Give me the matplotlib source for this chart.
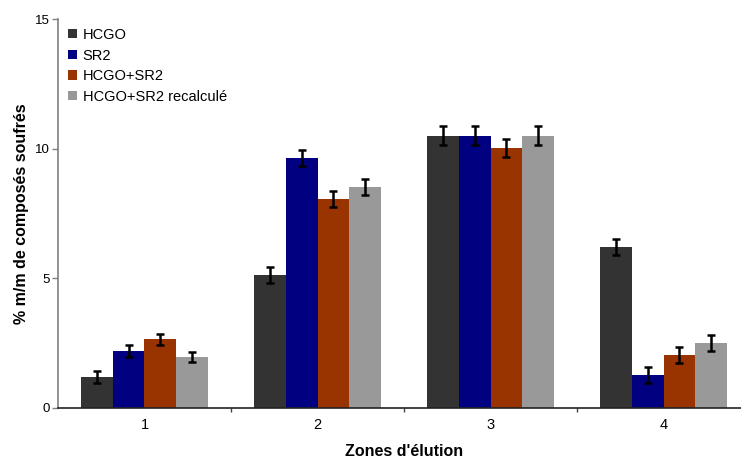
import numpy as np
import matplotlib
matplotlib.use("Agg")
import matplotlib.pyplot as plt
from matplotlib.patches import Patch

plt.rcParams['font.family'] = ['Liberation Sans', 'DejaVu Sans']

# zones d'elution
zones = ["1", "2", "3", "4"]
series = ["HCGO", "SR2", "HCGO+SR2", "HCGO+SR2 recalculé"]

hcgo = [1.20, 5.13, 10.50, 6.22]
sr2 = [2.20, 9.65, 10.50, 1.27]
melange = [2.66, 8.07, 10.04, 2.05]
recalc = [1.97, 8.53, 10.50, 2.51]

hcgo_err = [0.23, 0.32, 0.37, 0.31]
sr2_err = [0.23, 0.31, 0.37, 0.32]
melange_err = [0.21, 0.30, 0.35, 0.32]
recalc_err = [0.21, 0.30, 0.37, 0.31]

couleurs = ["#333333", "#000080", "#993300", "#999999"]

valeurs = [hcgo, sr2, melange, recalc]
erreurs = [hcgo_err, sr2_err, melange_err, recalc_err]

fig = plt.figure(figsize=(7.41, 4.59), dpi=100)
# axe qui deborde un peu a droite (comme l'original)
ax = fig.add_axes([58 / 741, 51 / 459, 692 / 741, 388.7 / 459])

x = np.arange(1, len(zones) + 1)
w = 0.183
for i in range(4):
    pos = x + (i - 1.5) * w
    ax.bar(pos, valeurs[i], w, color=couleurs[i], label=series[i], zorder=2)
    ax.errorbar(pos, valeurs[i], yerr=erreurs[i], fmt='none', ecolor='black',
                elinewidth=1.8, capsize=3, capthick=1.8, zorder=3)

ax.set_xlim(0.5, 4.5)
ax.set_ylim(0, 15)
ax.set_yticks([0, 5, 10, 15])
ax.set_xticks(x)
ax.set_xticklabels(zones)
ax.set_xticks([1.5, 2.5, 3.5], minor=True)
ax.tick_params(axis='x', which='major', length=0, labelsize=10.5, pad=7)
ax.tick_params(axis='x', which='minor', length=3, width=1, color='#444444', direction='out')
ax.tick_params(axis='y', length=4, width=1, color='#808080', labelsize=9.5, pad=2)

ax.spines['top'].set_visible(False)
ax.spines['right'].set_visible(False)
ax.spines['left'].set_color('#808080')
ax.spines['left'].set_linewidth(1.2)
ax.spines['bottom'].set_color('#222222')
ax.spines['bottom'].set_linewidth(1.2)

ax.set_xlabel("Zones d'élution", fontsize=11.5, fontweight='bold', labelpad=9)
ax.set_ylabel("% m/m de composés soufrés", fontsize=11.5, fontweight='bold', labelpad=4)

handles = [Patch(facecolor=c, edgecolor='none') for c in couleurs]
fig.legend(handles, series, loc='upper left', bbox_to_anchor=(68 / 741, 1 - 28 / 459),
           frameon=False, fontsize=10.5, handlelength=0.6, handleheight=0.6,
           handletextpad=0.4, labelspacing=0.45, borderaxespad=0, borderpad=0)

fig.savefig("out.png", dpi=100)
